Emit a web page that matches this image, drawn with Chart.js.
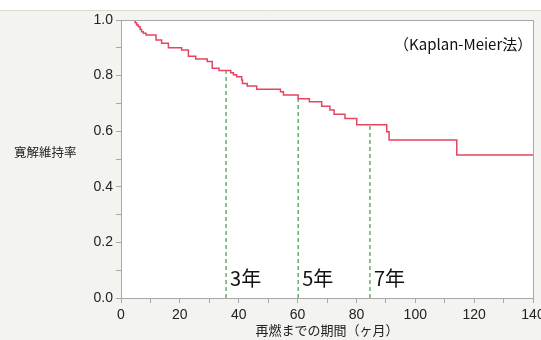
<!DOCTYPE html>
<html>
<head>
<meta charset="utf-8">
<script src="https://cdn.jsdelivr.net/npm/chart.js@4.4.1/dist/chart.umd.min.js"></script>
<style>
  html, body { margin: 0; padding: 0; background: #f3f3ef; }
  canvas { display: block; }
</style>
</head>
<body>
<canvas id="chart" width="541" height="340"></canvas>
<script>
// Kaplan-Meier curve: months at which the curve steps, and the value after the step
const kmMonths = [3.6, 4.8, 5.3, 5.9, 6.5, 7.0, 7.6, 8.5, 11.9, 13.8, 16.1, 20.6, 22.9, 25.4, 29.3, 31.0, 33.3,
    37.3, 38.2, 39.3, 41.0, 41.3, 42.9, 46.1, 54.2, 55.2, 60.2, 64.0, 68.2, 71.0,
    72.4, 76.1, 80.1, 90.3, 91.1, 114.1, 140];
const kmSurv = [1.0, 0.990, 0.982, 0.976, 0.966, 0.958, 0.952, 0.946, 0.928, 0.916, 0.900, 0.892, 0.870, 0.860, 0.851, 0.826, 0.818,
    0.810, 0.803, 0.796, 0.784, 0.772, 0.763, 0.751, 0.742, 0.730, 0.717, 0.706, 0.690, 0.676,
    0.661, 0.646, 0.623, 0.598, 0.568, 0.514, 0.514];

// dashed markers at 3, 5, 7 years
const markMonths = [35.7, 60.2, 84.6];
const markTops = [0.818, 0.717, 0.623];
const markLabels = ['3年', '5年', '7年'];

const xTitle = '再燃までの期間（ヶ月）';
const yTitle = '寛解維持率';
const methodNote = '（Kaplan-Meier法）';

const red = '#e6445f';
const green = '#3d9a48';
const axisGray = '#a8a8a8';

const datasets = [{
    data: kmMonths.map((m, i) => ({x: m, y: kmSurv[i]})),
    borderColor: red,
    borderWidth: 1.5,
    stepped: 'before',
    pointRadius: 0,
    fill: false
}];
markMonths.forEach((m, i) => {
    datasets.push({
        data: [{x: m, y: 0}, {x: m, y: markTops[i]}],
        borderColor: green,
        borderWidth: 1.2,
        borderDash: [4, 3],
        pointRadius: 0,
        fill: false
    });
});

// backgrounds, frame and the free text
const decor = {
    id: 'decor',
    beforeDraw(chart) {
        const {ctx, width, height, chartArea: {top, bottom, left, right}} = chart;
        ctx.save();
        ctx.fillStyle = '#f3f3ef';
        ctx.fillRect(0, 0, width, height);
        ctx.fillStyle = '#ffffff';
        ctx.fillRect(0, 0, width, 10);
        ctx.strokeStyle = '#dcdcd6';
        ctx.lineWidth = 1;
        ctx.beginPath();
        ctx.moveTo(0, 10.5);
        ctx.lineTo(width, 10.5);
        ctx.stroke();
        ctx.fillStyle = '#ffffff';
        ctx.fillRect(left, top, right - left, bottom - top);
        ctx.restore();
    },
    afterDraw(chart) {
        const {ctx, chartArea: {top, bottom, left, right}, scales: {x, y}} = chart;
        ctx.save();
        ctx.strokeStyle = axisGray;
        ctx.lineWidth = 1;
        ctx.beginPath();
        ctx.moveTo(left, top + 0.5);
        ctx.lineTo(right + 0.5, top + 0.5);
        ctx.lineTo(right + 0.5, bottom);
        ctx.stroke();

        ctx.fillStyle = '#222';
        ctx.textBaseline = 'middle';
        ctx.textAlign = 'left';
        ctx.font = '12.5px "Noto Sans CJK JP"';
        ctx.fillText(yTitle, 14, 152);

        ctx.fillStyle = '#111';
        ctx.font = '20px "Noto Sans CJK JP"';
        markMonths.forEach((m, i) => {
            ctx.fillText(markLabels[i], x.getPixelForValue(m) + 4, y.getPixelForValue(0.07));
        });

        ctx.font = '15px "Noto Sans CJK JP"';
        ctx.fillText(methodNote, 394, 44);
        ctx.restore();
    }
};

const config = {
    type: 'line',
    data: {datasets},
    options: {
        responsive: false,
        animation: false,
        layout: {
            padding: {top: 20, right: 8, bottom: 0, left: 0}
        },
        scales: {
            x: {
                type: 'linear',
                min: 0,
                max: 140,
                afterFit(s) { s.height = 42; s.paddingLeft = 0; s.paddingRight = 0; },
                ticks: {
                    stepSize: 10,
                    autoSkip: false,
                    maxRotation: 0,
                    padding: 4,
                    color: '#222',
                    font: {family: '"Liberation Sans", Arial, sans-serif', size: 14},
                    callback: v => (v % 20 === 0 ? String(v) : '')
                },
                grid: {drawOnChartArea: false, tickLength: 5, tickColor: axisGray},
                border: {color: axisGray},
                title: {
                    display: true,
                    text: xTitle,
                    color: '#222',
                    font: {family: '"Noto Sans CJK JP"', size: 13},
                    padding: {top: 0, bottom: 2}
                }
            },
            y: {
                min: 0,
                max: 1,
                afterFit(s) { s.width = 121; },
                ticks: {
                    stepSize: 0.1,
                    autoSkip: false,
                    padding: 3,
                    color: '#222',
                    font: {family: '"Liberation Sans", Arial, sans-serif', size: 14},
                    callback: v => (Math.round(v * 10) % 2 === 0 ? v.toFixed(1) : '')
                },
                grid: {drawOnChartArea: false, tickLength: 5, tickColor: axisGray},
                border: {color: axisGray}
            }
        },
        plugins: {
            legend: {display: false},
            tooltip: {enabled: false}
        }
    },
    plugins: [decor]
};

new Chart(document.getElementById('chart'), config);
</script>
</body>
</html>
